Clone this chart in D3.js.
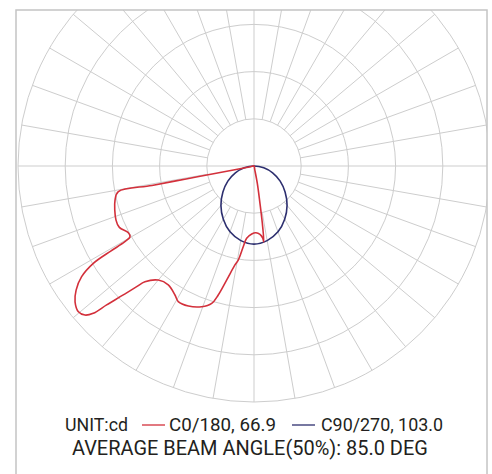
<!DOCTYPE html>
<html><head><meta charset="utf-8">
<script src="https://cdn.jsdelivr.net/npm/d3@7"></script>
<style>html,body{margin:0;padding:0;background:#fff;}svg{display:block;}</style>
</head><body>
<svg id="chart" width="492" height="474"></svg>
<script>
// ---- data ----
// angle in degrees measured from nadir (0 = straight down), positive towards the C180 / left side
const ringValues = [20, 40, 60, 80, 100];          // cd
const spokeAngles = d3.range(0, 360, 10);           // deg

const c0Angles = [90, 79.2, 79.2, 79.2, 79.2, 79.3, 76.3, 68.6, 65.5, 62.0, 60.3, 59.6, 59.3, 58.8, 57.3, 55.1, 52.8, 50.3, 48.6, 47.5, 46.7, 45.4, 44.2, 43.3, 40.0, 35.8, 31.5, 29.2, 25.1, 20.4, 17.1, 15.5, 13.5, 10.9, 9.5, 7.6, 5.8, 1.9, -1.7, -5.0, -6.9, -7.4, -8.3, -9.1, -10.8, -11.6];
const c0Values = [0, 1.5, 14.6, 29.3, 44.0, 58.5, 60.6, 62.8, 62.7, 60.3, 60.5, 63.6, 70.6, 79.6, 86.8, 91.9, 95.2, 96.7, 95.5, 92.4, 85.8, 77.8, 71.3, 67.4, 63.1, 62.1, 64.1, 65.8, 65.5, 63.6, 60.9, 56.7, 49.7, 42.7, 40.4, 34.5, 30.8, 28.8, 28.3, 29.1, 30.8, 32.4, 24.2, 16.0, 7.5, 1.5];

const c90Angles = [90, 80, 70, 60, 50, 40, 30, 20, 10, 0, -10, -20, -30, -40, -50, -60, -70, -80];
const c90Values = [0, 4.2, 8.4, 12.8, 17.2, 21.8, 26.0, 29.7, 32.1, 33.1, 32.1, 29.7, 26.0, 21.8, 17.2, 12.8, 8.4, 4.2];

const legendUnit = "UNIT:cd";
const seriesNames = ["C0/180, 66.9", "C90/270, 103.0"];
const seriesColors = ["#d3303b", "#2d2f6f"];
const beamText = "AVERAGE BEAM ANGLE(50%): 85.0 DEG";

// ---- layout ----
const cx = 254, cy = 166, R = 236;
const frame = {x: 16, y: 10, w: 471, h: 490};
const svg = d3.select("#chart");

svg.append("defs").append("clipPath").attr("id", "clip")
  .append("rect").attr("x", frame.x).attr("y", frame.y).attr("width", frame.w).attr("height", frame.h);

const r = d3.scaleLinear().domain([0, 100]).range([0, R]);
const toRad = d => Math.PI + d * Math.PI / 180;   // d3 radial: 0 = up, clockwise

const g = svg.append("g").attr("clip-path", "url(#clip)").append("g").attr("transform", `translate(${cx},${cy})`);
const gridColor = "#cdcdcd";

// rings
g.selectAll("circle.ring").data(ringValues).join("circle")
  .attr("r", d => r(d)).attr("fill", "none").attr("stroke", gridColor).attr("stroke-width", 1);

// spokes
g.selectAll("line.spoke").data(spokeAngles).join("line")
  .attr("x1", a => Math.sin(a * Math.PI / 180) * (a % 90 === 0 ? 0 : r(ringValues[0])))
  .attr("y1", a => -Math.cos(a * Math.PI / 180) * (a % 90 === 0 ? 0 : r(ringValues[0])))
  .attr("x2", a => Math.sin(a * Math.PI / 180) * r(100))
  .attr("y2", a => -Math.cos(a * Math.PI / 180) * r(100))
  .attr("stroke", gridColor).attr("stroke-width", 1);

// curves
const c0 = c0Angles.map((a, i) => [toRad(a), r(c0Values[i])]);
const c90 = c90Angles.map((a, i) => [toRad(a), r(c90Values[i])]);

g.append("path").datum(c90)
  .attr("d", d3.lineRadial().curve(d3.curveCatmullRomClosed.alpha(0.5)))
  .attr("fill", "none").attr("stroke", seriesColors[1]).attr("stroke-width", 1.6);

g.append("path").datum(c0)
  .attr("d", d3.lineRadial().curve(d3.curveCatmullRomClosed.alpha(0.5)))
  .attr("fill", "none").attr("stroke", seriesColors[0]).attr("stroke-width", 1.6);

// frame
svg.append("rect").attr("x", frame.x).attr("y", frame.y).attr("width", frame.w).attr("height", frame.h)
  .attr("fill", "none").attr("stroke", "#c4c4c4").attr("stroke-width", 1.5);

// legend
const font = "Roboto, 'Open Sans', sans-serif";
function fitText(x, y, str, width, size) {
  const t = svg.append("text").attr("x", x).attr("y", y).text(str)
    .attr("font-family", font).attr("font-size", size).attr("fill", "#231f20");
  const w = t.node().getComputedTextLength();
  t.attr("font-size", size * width / w);
  return t;
}
const ly = 431;
fitText(65, ly, legendUnit, 63, 18);
svg.append("line").attr("x1", 142).attr("x2", 165).attr("y1", ly - 6).attr("y2", ly - 6)
  .attr("stroke", seriesColors[0]).attr("stroke-width", 1.3);
fitText(169, ly, seriesNames[0], 107, 18);
svg.append("line").attr("x1", 292).attr("x2", 315).attr("y1", ly - 6).attr("y2", ly - 6)
  .attr("stroke", seriesColors[1]).attr("stroke-width", 1.3);
fitText(321, ly, seriesNames[1], 122, 18);
fitText(72, 455, beamText, 356, 19);
</script>
</body></html>
